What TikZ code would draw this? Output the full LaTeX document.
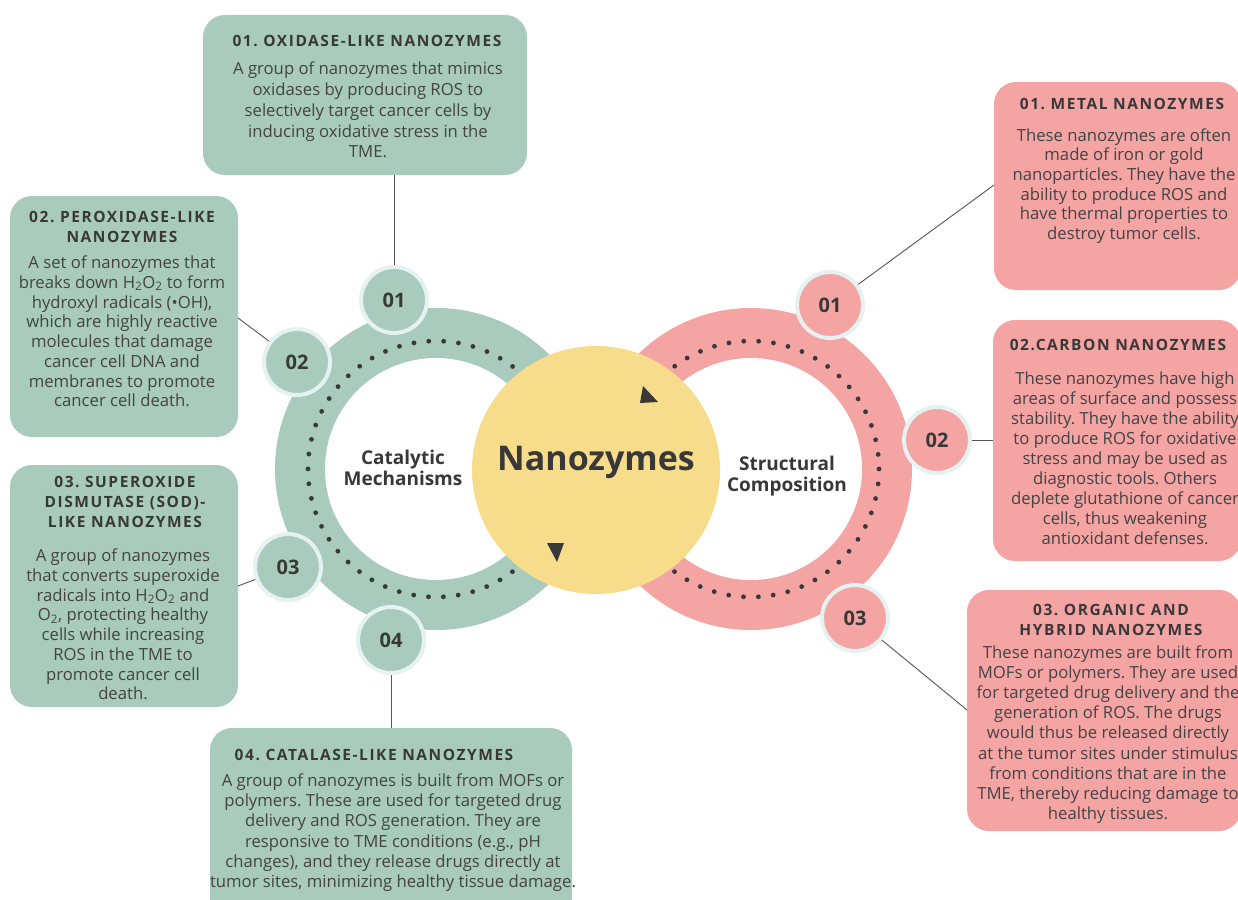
\documentclass[tikz,border=0pt]{standalone}
\usepackage{fontspec}
\setmainfont{Open Sans}
\newfontfamily\headfont[LetterSpace=10]{Open Sans}
\definecolor{gfill}{HTML}{A8CBBD}
\definecolor{pfill}{HTML}{F5A4A4}
\definecolor{yfill}{HTML}{F7DD8B}
\definecolor{rim}{HTML}{E6F2F1}
\definecolor{txt}{HTML}{434343}
\definecolor{htxt}{HTML}{383838}
\definecolor{linec}{HTML}{555555}
\tikzset{
  box/.style={rounded corners=22pt, draw=none, inner sep=0pt},
  gbox/.style={box, fill=gfill},
  pbox/.style={box, fill=pfill},
  body/.style={text=txt, align=center, inner sep=0pt},
  head/.style={text=htxt, align=center, inner sep=0pt},
  num/.style={circle, minimum size=66pt, line width=4pt, draw=rim, text=htxt, inner sep=0pt,
    font=\bfseries\fontsize{20}{20}\selectfont},
  link/.style={draw=linec, line width=0.9pt},
  dots/.style={line width=4.8pt, line cap=round, dash pattern=on 0pt off 14.9pt, draw=htxt},
  tri/.style={fill=htxt},
  ctr/.style={text=htxt, align=center, inner sep=0pt, font=\bfseries\fontsize{19}{21}\selectfont}
}
\newcommand{\hdf}[1]{\frenchspacing\headfont\bfseries\fontsize{15.5}{#1}\selectfont}
\newcommand{\bdf}[1]{\frenchspacing\fontsize{16.7}{#1}\selectfont}
\begin{document}
\begin{tikzpicture}[x=1pt,y=-1pt]
\useasboundingbox (0,0) rectangle (1238,899);
\clip (0,0) rectangle (1238,899);
\fill[white] (0,0) rectangle (1238,899);

% boxes
\node[gbox, minimum width=324pt, minimum height=160pt] (g1box) at (365,95) {};
\node[gbox, minimum width=228pt, minimum height=241pt] (g2box) at (124,316.5) {};
\node[gbox, minimum width=228pt, minimum height=242pt] (g3box) at (124,586) {};
\node[gbox, minimum width=362pt, minimum height=192pt] (g4box) at (391,824) {};
\node[pbox, minimum width=247pt, minimum height=208pt] (p1box) at (1117.5,186) {};
\node[pbox, minimum width=248pt, minimum height=241pt] (p2box) at (1117,440.5) {};
\node[pbox, minimum width=274pt, minimum height=241pt] (p3box) at (1104,710.5) {};

% rings
\fill[gfill] (436,469) circle[radius=161];
\fill[white] (436,469) circle[radius=111];
\draw[dots] (436,469) circle[radius=128];
\fill[pfill] (751,469) circle[radius=161];
\fill[white] (751,469) circle[radius=111];
\draw[dots] (751,469) circle[radius=128];
\node[circle, fill=yfill, minimum size=248pt, inner sep=0pt] (core) at (596,470) {};
\fill[tri] (643,386) -- (640,403) -- (658,402) -- cycle;
\fill[tri] (547,543) -- (564,543) -- (557,562) -- cycle;

\node[text=htxt, inner sep=0pt, font=\bfseries\fontsize{34}{34}\selectfont] (title) at (596,462) {Nanozymes};
\node[ctr] (cat) at (403,468) {Catalytic\\Mechanisms};
\node[ctr] (str) at (787,476) {Structural\\Composition};

% connector ends
\coordinate (g2end) at (238,318);
\coordinate (g3end) at (238,586);
\coordinate (p1end) at (994,185);
\coordinate (p2end) at (993,440);
\coordinate (p3end) at (967,710);

% number circles
\node[num, fill=gfill] (g1num) at (394,300) {01};
\node[num, fill=gfill] (g2num) at (297,362) {02};
\node[num, fill=gfill] (g3num) at (288,567) {03};
\node[num, fill=gfill] (g4num) at (391,640) {04};
\node[num, fill=pfill] (p1num) at (830,305) {01};
\node[num, fill=pfill] (p2num) at (937,440) {02};
\node[num, fill=pfill] (p3num) at (855,618) {03};

\draw[link] (g1num) -- (g1num |- g1box.south);
\draw[link] (g2num) -- (g2end);
\draw[link] (g3num) -- (g3end);
\draw[link] (g4num) -- (g4num |- g4box.north);
\draw[link] (p1num) -- (p1end);
\draw[link] (p2num) -- (p2end);
\draw[link] (p3num) -- (p3end);

% texts
\node[head, font=\hdf{20}] (g1h) at (367,41) {01. OXIDASE-LIKE NANOZYMES};
\node[body, font=\bdf{20.85}] (g1b) at (368,110) {A group of nanozymes that mimics\\oxidases by producing ROS to\\selectively target cancer cells by\\inducing oxidative stress in the\\TME.};

\node[head, font=\hdf{20}] (g2h) at (122,227) {02. PEROXIDASE-LIKE\\NANOZYMES};
\node[body, font=\bdf{19.76}] (g2b) at (122,331.5) {A set of nanozymes that\\breaks down H\textsubscript{2}O\textsubscript{2} to form\\hydroxyl radicals (•OH),\\which are highly reactive\\molecules that damage\\cancer cell DNA and\\membranes to promote\\cancer cell death.};

\node[head, font=\hdf{20}] (g3h) at (125,502) {03. SUPEROXIDE\\DISMUTASE (SOD)-\\LIKE NANOZYMES};
\node[body, font=\bdf{19.76}] (g3b) at (123,624.5) {A group of nanozymes\\that converts superoxide\\radicals into H\textsubscript{2}O\textsubscript{2} and\\O\textsubscript{2}, protecting healthy\\cells while increasing\\ROS in the TME to\\promote cancer cell\\death.};

\node[head, font=\hdf{20}] (g4h) at (374,755) {04. CATALASE-LIKE NANOZYMES};
\node[body, font=\bdf{20.3}] (g4b) at (393,832.5) {A group of nanozymes is built from MOFs or\\polymers. These are used for targeted drug\\delivery and ROS generation. They are\\responsive to TME conditions (e.g., pH\\changes), and they release drugs directly at\\tumor sites, minimizing healthy tissue damage.};

\node[head, font=\hdf{20}] (p1h) at (1122,103.5) {01. METAL NANOZYMES};
\node[body, font=\bdf{19.7}] (p1b) at (1124,186) {These nanozymes are often\\made of iron or gold\\nanoparticles. They have the\\ability to produce ROS and\\have thermal properties to\\destroy tumor cells.};

\node[head, font=\hdf{20}] (p2h) at (1118,345) {02.CARBON NANOZYMES};
\node[body, font=\bdf{20}] (p2b) at (1125,458.5) {These nanozymes have high\\areas of surface and possess\\stability. They have the ability\\to produce ROS for oxidative\\stress and may be used as\\diagnostic tools. Others\\deplete glutathione of cancer\\cells, thus weakening\\antioxidant defenses.};

\node[head, font=\hdf{20}] (p3h) at (1111,620) {03. ORGANIC AND\\HYBRID NANOZYMES};
\node[body, font=\bdf{20.2}] (p3b) at (1108,734.5) {These nanozymes are built from\\MOFs or polymers. They are used\\for targeted drug delivery and the\\generation of ROS. The drugs\\would thus be released directly\\at the tumor sites under stimulus\\from conditions that are in the\\TME, thereby reducing damage to\\healthy tissues.};
\end{tikzpicture}
\end{document}
